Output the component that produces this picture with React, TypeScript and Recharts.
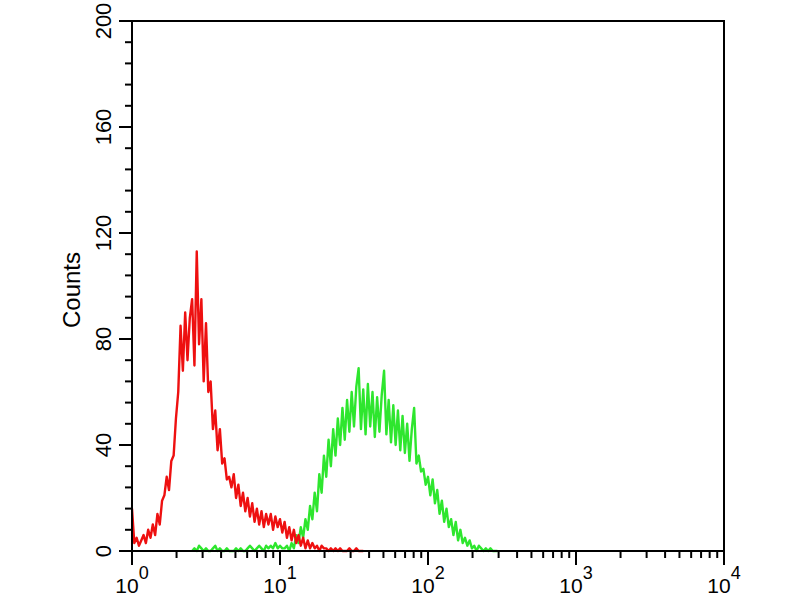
import { ComposedChart, Line, XAxis, YAxis, ReferenceArea } from 'recharts'

// histogram bins: 4 of 256 channels per decade
const BIN = 1 / 64

const redCounts = [
  16, 3, 5, 2, 4, 6, 3, 8, 5, 10, 6, 14, 10, 19, 21, 28, 23, 34, 36, 50,
  60, 85, 68, 90, 72, 88, 95, 70, 113, 78, 95, 64, 86, 60, 64, 46, 53, 38, 46, 33,
  35, 27, 28, 24, 29, 20, 25, 17, 22, 15, 20, 13, 18, 11, 16, 10, 15, 9, 14, 10,
  14, 8, 13, 9, 12, 7, 11, 5, 9, 4, 8, 3, 6, 2, 5, 1, 4, 1, 3, 1,
  2, 0, 2, 1, 1, 0, 1, 0, 1, 0, 1, 0, 0, 0, 1, 0, 0, 1, 0, 0, 0,
]

const greenStartBin = 26
const greenCounts = [
  0, 1, 0, 2, 1, 0, 1, 0, 0, 1, 2, 0, 1, 0, 0, 1, 0, 0, 0, 1,
  0, 1, 0, 0, 1, 2, 1, 0, 1, 2, 1, 0, 2, 1, 2, 1, 3, 1, 2, 1,
  1, 2, 0, 3, 1, 6, 3, 9, 5, 12, 8, 17, 12, 22, 15, 29, 22, 36, 28, 42,
  32, 46, 36, 50, 40, 54, 42, 57, 45, 60, 47, 62, 69, 46, 61, 44, 63, 47, 60, 43,
  58, 45, 59, 68, 44, 57, 41, 55, 40, 53, 38, 51, 37, 48, 34, 46, 54, 33, 36, 30,
  31, 25, 28, 21, 27, 18, 23, 14, 19, 11, 16, 9, 12, 6, 11, 4, 8, 3, 5, 2,
  4, 1, 2, 0, 2, 1, 0, 1, 0, 1, 0, 0, 0,
]

const decades = [0, 1, 2, 3, 4]
const minorSteps = [2, 3, 4, 5, 6, 7, 8, 9]
const yTicks = [
  0, 8, 16, 24, 32, 40, 48, 56, 64, 72, 80, 88, 96, 104, 112, 120, 128, 136, 144, 152,
  160, 168, 176, 184, 192, 200,
]
const yLabelTicks = [0, 40, 80, 120, 160, 200]

const xTicks = [
  ...decades,
  ...decades.slice(0, 4).flatMap((d) => minorSteps.map((m) => d + Math.log10(m))),
].sort((a, b) => a - b)

const binTotal = greenStartBin + greenCounts.length
const data = Array.from({ length: binTotal }, (_, i) => ({
  pos: i * BIN,
  red: i < redCounts.length ? redCounts[i] : null,
  green: i >= greenStartBin ? greenCounts[i - greenStartBin] : null,
}))

const FONT = '"Liberation Sans", Arial, sans-serif'

function XTick({ x, y, payload }: any) {
  const v = payload.value
  const major = Number.isInteger(v)
  return (
    <g>
      <line x1={x} x2={x} y1={y} y2={y + (major ? 14 : 7)} stroke="#000" strokeWidth={2} />
      {major && (
        <text x={x} y={y + 42} textAnchor="middle" fontSize={21} fontFamily={FONT} fill="#000">
          10
          <tspan dy={-14} fontSize={18}>
            {v}
          </tspan>
        </text>
      )}
    </g>
  )
}

function YTick({ x, y, payload }: any) {
  const major = yLabelTicks.includes(payload.value)
  return (
    <g>
      <line x1={x - (major ? 13 : 7)} x2={x} y1={y} y2={y} stroke="#000" strokeWidth={2} />
      {major && (
        <text
          transform={`translate(${x - 21}, ${y}) rotate(-90)`}
          textAnchor="middle"
          fontSize={22}
          fontFamily={FONT}
          fill="#000"
        >
          {payload.value}
        </text>
      )}
    </g>
  )
}

function CountsLabel({ viewBox }: any) {
  const cy = viewBox.y + viewBox.height / 2 + 4
  return (
    <text
      transform={`translate(80, ${cy}) rotate(-90)`}
      textAnchor="middle"
      fontSize={24}
      fontFamily={FONT}
      fill="#000"
    >
      Counts
    </text>
  )
}

export default function App() {
  return (
    <div style={{ position: 'absolute', left: 0, top: 0, background: '#fff' }}>
      <ComposedChart width={800} height={600} data={data} margin={{ top: 21, right: 76, bottom: 0, left: 0 }}>
        <XAxis
          dataKey="pos"
          type="number"
          domain={[0, 4]}
          ticks={xTicks}
          interval={0}
          height={49}
          tickSize={0}
          tickMargin={0}
          tickLine={false}
          tick={<XTick />}
          axisLine={{ stroke: '#000', strokeWidth: 2 }}
          allowDataOverflow
        />
        <YAxis
          type="number"
          domain={[0, 200]}
          ticks={yTicks}
          interval={0}
          width={132}
          tickSize={0}
          tickMargin={0}
          tickLine={false}
          tick={<YTick />}
          axisLine={{ stroke: '#000', strokeWidth: 2 }}
          label={<CountsLabel />}
        />
        <ReferenceArea x1={0} x2={4} y1={0} y2={200} fill="none" stroke="#000" strokeWidth={2} ifOverflow="visible" />
        <Line
          dataKey="green"
          stroke="#2ee62e"
          strokeWidth={2.4}
          strokeLinejoin="round"
          dot={false}
          isAnimationActive={false}
          connectNulls={false}
        />
        <Line
          dataKey="red"
          stroke="#ee1010"
          strokeWidth={2.4}
          strokeLinejoin="round"
          dot={false}
          isAnimationActive={false}
          connectNulls={false}
        />
      </ComposedChart>
    </div>
  )
}
